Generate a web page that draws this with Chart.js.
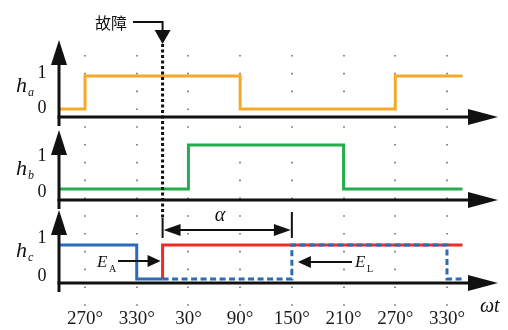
<!DOCTYPE html>
<html><head><meta charset="utf-8">
<script src="https://cdn.jsdelivr.net/npm/chart.js@4.4.0/dist/chart.umd.min.js"></script>
<style>html,body{margin:0;padding:0;background:#fff;overflow:hidden;}</style>
</head><body>
<canvas id="c" width="508" height="330" style="width:508px;height:330px;display:block"></canvas>
<script>
// ---- data (angles in degrees, continuous: 390 = 30° of next cycle) ----
const tickDegrees = [270, 330, 390, 450, 510, 570, 630, 690];
const tickLabels  = ['270°', '330°', '30°', '90°', '150°', '210°', '270°', '330°'];
const faultAngle = 360;
const alphaEndAngle = 510;
const haX = [240, 270, 450, 630, 708];
const haY = [0, 1, 0, 1, 1];
const hbX = [240, 390, 570, 708];
const hbY = [0, 1, 0, 0];
const hcBlueX = [240, 330, 360, 510, 690, 708];
const hcBlueY = [1, 0, 0, 1, 0, 0];
const hcRedX = [360, 360, 708];
const hcRedY = [0, 1, 1];

const pts = (xs, ys) => xs.map((x, i) => ({x, y: ys[i]}));

// ---- layout ----
const area = {top: 20, bottom: 283.3};
function yRange(y0px, y1px) {
  const k = y0px - y1px;
  const min = -(area.bottom - y0px) / k;
  return {min, max: min + (area.bottom - area.top) / k};
}
const rA = yRange(109, 76), rB = yRange(189, 145), rC = yRange(279, 245);

const INK = '#111';
function tri(ctx, a, b, c) {
  ctx.beginPath(); ctx.moveTo(a[0], a[1]); ctx.lineTo(b[0], b[1]); ctx.lineTo(c[0], c[1]);
  ctx.closePath(); ctx.fill();
}

const deco = {
  id: 'deco',
  beforeDatasetsDraw(chart) {
    const ctx = chart.ctx, xs = chart.scales.x;
    ctx.save();
    ctx.strokeStyle = 'rgba(60,60,60,0.75)';
    ctx.lineWidth = 1.6;
    ctx.setLineDash([1.6, 16.2]);
    tickDegrees.forEach(v => {
      const px = Math.round(xs.getPixelForValue(v));
      ctx.beginPath(); ctx.moveTo(px, 55); ctx.lineTo(px, 309); ctx.stroke();
    });
    ctx.restore();
  },
  afterDatasetsDraw(chart) {
    const ctx = chart.ctx, xs = chart.scales.x, ca = chart.chartArea;
    const L = ca.left, R = ca.right;
    ctx.save();
    ctx.fillStyle = INK; ctx.strokeStyle = INK;

    // axes
    const panels = [
      {axis: 117, tip: 40, h: 92, sub: 'a', one: 73, zero: 108},
      {axis: 200, tip: 130, h: 175, sub: 'b', one: 156, zero: 192},
      {axis: 283, tip: 210, h: 257, sub: 'c', one: 238, zero: 276}
    ];
    panels.forEach(p => {
      ctx.lineWidth = 3; ctx.setLineDash([]);
      ctx.beginPath(); ctx.moveTo(L, p.axis + 9); ctx.lineTo(L, p.tip + 10); ctx.stroke();
      tri(ctx, [L, p.tip], [L - 8, p.tip + 25], [L + 8, p.tip + 25]);
      ctx.beginPath(); ctx.moveTo(L - 1.5, p.axis); ctx.lineTo(R - 20, p.axis); ctx.stroke();
      tri(ctx, [R, p.axis], [R - 30, p.axis - 8], [R - 30, p.axis + 8]);
      // labels
      ctx.font = '18px "Liberation Serif", serif';
      ctx.textAlign = 'center'; ctx.textBaseline = 'middle';
      ctx.fillText('1', 42, p.one);
      ctx.fillText('0', 42, p.zero);
      ctx.textAlign = 'left'; ctx.textBaseline = 'alphabetic';
      ctx.font = 'italic 22px "Liberation Serif", serif';
      ctx.fillText('h', 16, p.h);
      ctx.font = 'italic 12px "Liberation Serif", serif';
      ctx.fillText(p.sub, 28, p.h + 4);
    });

    // fault line
    const fx = xs.getPixelForValue(faultAngle);
    ctx.lineWidth = 3; ctx.setLineDash([3, 2.5]);
    ctx.beginPath(); ctx.moveTo(fx, 44); ctx.lineTo(fx, 218); ctx.stroke();
    ctx.setLineDash([]);
    ctx.lineWidth = 2;
    ctx.beginPath(); ctx.moveTo(fx, 218); ctx.lineTo(fx, 238); ctx.stroke();
    // fault label arrow
    ctx.lineWidth = 2;
    ctx.beginPath(); ctx.moveTo(133, 22); ctx.lineTo(fx, 22); ctx.lineTo(fx, 32); ctx.stroke();
    tri(ctx, [fx, 44], [fx - 8, 30], [fx + 8, 30]);
    ctx.font = '16px "Noto Sans CJK SC", sans-serif';
    ctx.textAlign = 'left'; ctx.textBaseline = 'middle';
    ctx.fillText('故障', 95, 23);

    // alpha bracket
    const ax = xs.getPixelForValue(alphaEndAngle);
    ctx.lineWidth = 2;
    ctx.beginPath(); ctx.moveTo(ax, 212); ctx.lineTo(ax, 238); ctx.stroke();
    ctx.beginPath(); ctx.moveTo(fx + 10, 230); ctx.lineTo(ax - 10, 230); ctx.stroke();
    tri(ctx, [fx + 1, 230], [fx + 18, 224], [fx + 18, 236]);
    tri(ctx, [ax - 1, 230], [ax - 18, 224], [ax - 18, 236]);
    ctx.font = 'italic 20px "Liberation Serif", serif';
    ctx.textAlign = 'center'; ctx.textBaseline = 'alphabetic';
    ctx.fillText('α', 220, 221);

    // E_A
    ctx.textAlign = 'left';
    ctx.font = 'italic 17px "Liberation Serif", serif';
    ctx.fillText('E', 97, 267);
    ctx.font = '10px "Liberation Serif", serif';
    ctx.fillText('A', 109, 272);
    ctx.lineWidth = 2;
    ctx.beginPath(); ctx.moveTo(118, 261); ctx.lineTo(fx - 10, 261); ctx.stroke();
    tri(ctx, [fx - 2, 261], [fx - 15, 255], [fx - 15, 267]);
    // E_L
    ctx.font = 'italic 17px "Liberation Serif", serif';
    ctx.fillText('E', 355, 267);
    ctx.font = '10px "Liberation Serif", serif';
    ctx.fillText('L', 367, 272);
    ctx.beginPath(); ctx.moveTo(352, 262); ctx.lineTo(ax + 12, 262); ctx.stroke();
    tri(ctx, [ax + 6, 262], [ax + 19, 256], [ax + 19, 268]);

    // omega t
    ctx.font = 'italic 20px "Liberation Serif", serif';
    ctx.fillText('ωt', 480, 312);
    ctx.restore();
  }
};

const line = (data, color, yAxisID, extra) => Object.assign({
  data, borderColor: color, borderWidth: 3, stepped: true, pointRadius: 0,
  fill: false, yAxisID, borderCapStyle: 'butt', borderJoinStyle: 'miter'
}, extra || {});

new Chart(document.getElementById('c'), {
  type: 'line',
  data: {
    datasets: [
      line(pts(haX, haY), '#F6A928', 'ya'),
      line(pts(hbX, hbY), '#25AC4C', 'yb'),
      line(pts(hcBlueX, hcBlueY), '#2C6BB7', 'yc', {
        segment: { borderDash: c => c.p0.parsed.x >= faultAngle ? [6, 3.5] : undefined }
      }),
      line(pts(hcRedX, hcRedY), '#EE2C25', 'yc')
    ]
  },
  options: {
    responsive: false, animation: false, devicePixelRatio: 1,
    layout: { padding: {left: 59, right: 10, top: area.top, bottom: 0} },
    plugins: { legend: {display: false}, tooltip: {enabled: false} },
    scales: {
      x: {
        type: 'linear', min: 239.8, max: 749.2,
        grid: {display: false, drawTicks: false}, border: {display: false},
        afterBuildTicks: s => { s.ticks = tickDegrees.map(v => ({value: v})); },
        afterFit: s => { s.height = 330 - area.bottom; },
        ticks: {
          autoSkip: false, maxRotation: 0, padding: 24, color: '#1a1a1a',
          font: {family: '"Liberation Serif", serif', size: 19},
          callback: v => tickLabels[tickDegrees.indexOf(v)]
        }
      },
      ya: {type: 'linear', display: false, min: rA.min, max: rA.max},
      yb: {type: 'linear', display: false, min: rB.min, max: rB.max},
      yc: {type: 'linear', display: false, min: rC.min, max: rC.max}
    }
  },
  plugins: [deco]
});
</script>
</body></html>
